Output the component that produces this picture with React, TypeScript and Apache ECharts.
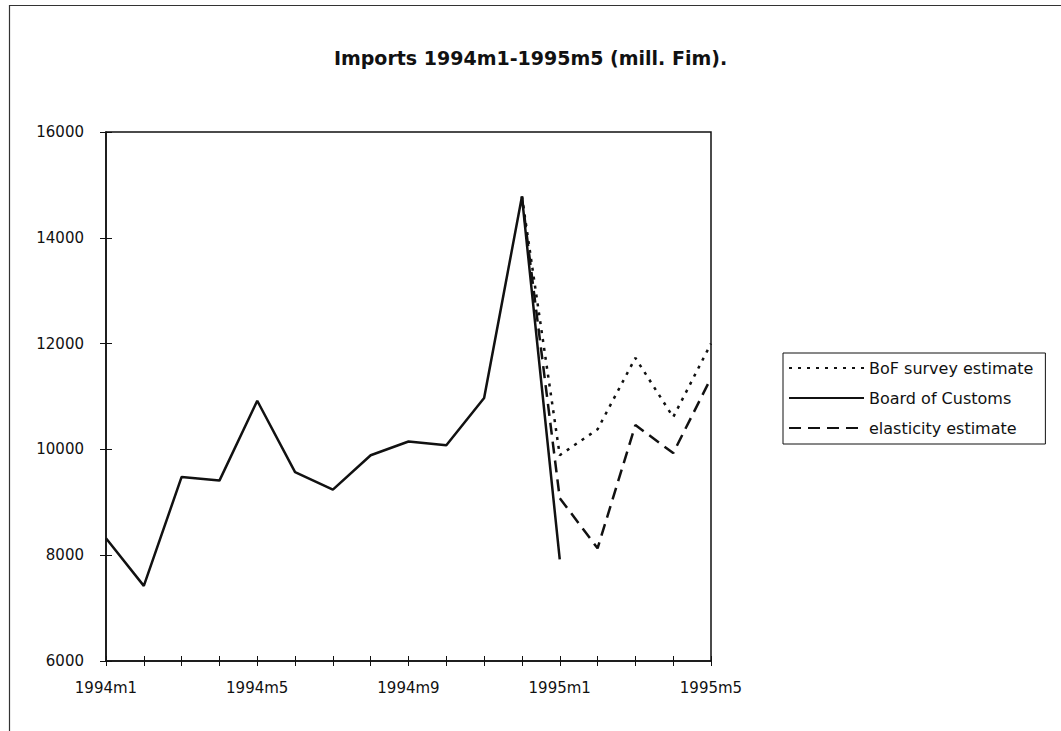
import React, { useEffect, useRef } from "react";
import * as echarts from "echarts";

const categories = [
  "1994m1", "1994m2", "1994m3", "1994m4", "1994m5", "1994m6", "1994m7", "1994m8",
  "1994m9", "1994m10", "1994m11", "1994m12", "1995m1", "1995m2", "1995m3", "1995m4", "1995m5",
];

const boardOfCustoms = [8320, 7420, 9480, 9410, 10920, 9570, 9240, 9890, 10150, 10080, 10970, 14780, 7920, null, null, null, null];
const bofSurvey = [null, null, null, null, null, null, null, null, null, null, null, 14780, 9890, 10380, 11730, 10610, 12000];
const elasticity = [null, null, null, null, null, null, null, null, null, null, null, 14780, 9080, 8130, 10460, 9930, 11350];

const yTicks = [6000, 8000, 10000, 12000, 14000, 16000];

const titleText = "Imports 1994m1-1995m5 (mill. Fim).";
const FONT = "DejaVu Sans";
const INK = "#111";

export default function App() {
  const ref = useRef<HTMLDivElement>(null);

  useEffect(() => {
    if (!ref.current) return;
    const chart = echarts.init(ref.current, null, { renderer: "svg" });
    const yMin = yTicks[0];
    const yMax = yTicks[yTicks.length - 1];
    const yStep = yTicks[1] - yTicks[0];

    const baseX = {
      type: "category",
      data: categories,
      boundaryGap: false,
      position: "bottom",
    };
    const baseY = {
      type: "value",
      min: yMin,
      max: yMax,
      interval: yStep,
      position: "left",
    };

    chart.setOption({
      animation: false,
      backgroundColor: "#fff",
      textStyle: { fontFamily: FONT, color: INK },
      title: {
        text: titleText,
        left: "center",
        top: 43,
        textStyle: { fontFamily: FONT, fontSize: 19, fontWeight: "bold", color: INK },
      },
      grid: {
        left: 106,
        top: 132,
        right: 350,
        bottom: 70,
        show: true,
        borderColor: INK,
        borderWidth: 1.5,
        backgroundColor: "transparent",
      },
      legend: {
        orient: "vertical",
        left: 783,
        top: 353,
        padding: [6, 12, 7, 5],
        itemWidth: 75,
        itemHeight: 18,
        itemGap: 12,
        borderColor: INK,
        borderWidth: 1,
        selectedMode: false,
        itemStyle: { opacity: 0, borderWidth: 0 },
        textStyle: { fontFamily: FONT, fontSize: 16, color: INK, lineHeight: 18 },
        data: ["BoF survey estimate", "Board of Customs", "elasticity estimate"],
      },
      xAxis: [
        {
          ...baseX,
          axisLine: { show: true, onZero: false, lineStyle: { color: INK, width: 1.5 } },
          axisTick: { show: true, interval: 0, length: 5, lineStyle: { color: INK, width: 1 } },
          axisLabel: { interval: 3, margin: 19, fontFamily: FONT, fontSize: 15, color: INK },
          splitLine: { show: false },
        },
        {
          ...baseX,
          axisLine: { show: false },
          axisTick: { show: true, inside: true, interval: 0, length: 5, lineStyle: { color: INK, width: 1 } },
          axisLabel: { show: false },
          splitLine: { show: false },
        },
      ],
      yAxis: [
        {
          ...baseY,
          axisLine: { show: true, lineStyle: { color: INK, width: 1.5 } },
          axisTick: { show: true, length: 6, lineStyle: { color: INK, width: 1 } },
          axisLabel: {
            margin: 22,
            fontFamily: FONT,
            fontSize: 15,
            color: INK,
            formatter: (v: number) => String(v),
          },
          splitLine: { show: false },
        },
        {
          ...baseY,
          axisLine: { show: false },
          axisTick: { show: true, inside: true, length: 6, lineStyle: { color: INK, width: 1 } },
          axisLabel: { show: false },
          splitLine: { show: false },
        },
      ],
      graphic: [
        { type: "line", shape: { x1: 9.5, y1: 5, x2: 9.5, y2: 731 }, style: { stroke: "#333", lineWidth: 1.2 } },
        { type: "line", shape: { x1: 9, y1: 5.5, x2: 1061, y2: 5.5 }, style: { stroke: "#333", lineWidth: 1.2 } },
      ],
      series: [
        {
          name: "BoF survey estimate",
          type: "line",
          data: bofSurvey,
          xAxisIndex: 0,
          yAxisIndex: 0,
          symbol: "none",
          color: INK,
          lineStyle: { color: INK, width: 2.5, type: [3, 6] },
        },
        {
          name: "Board of Customs",
          type: "line",
          data: boardOfCustoms,
          xAxisIndex: 0,
          yAxisIndex: 0,
          symbol: "none",
          color: INK,
          lineStyle: { color: INK, width: 2.5, type: "solid" },
        },
        {
          name: "elasticity estimate",
          type: "line",
          data: elasticity,
          xAxisIndex: 0,
          yAxisIndex: 0,
          symbol: "none",
          color: INK,
          lineStyle: { color: INK, width: 2.5, type: [12, 7] },
        },
      ],
    });

    return () => chart.dispose();
  }, []);

  return (
    <div
      ref={ref}
      style={{ position: "absolute", left: 0, top: 0, width: 1061, height: 731, background: "#fff" }}
    />
  );
}
